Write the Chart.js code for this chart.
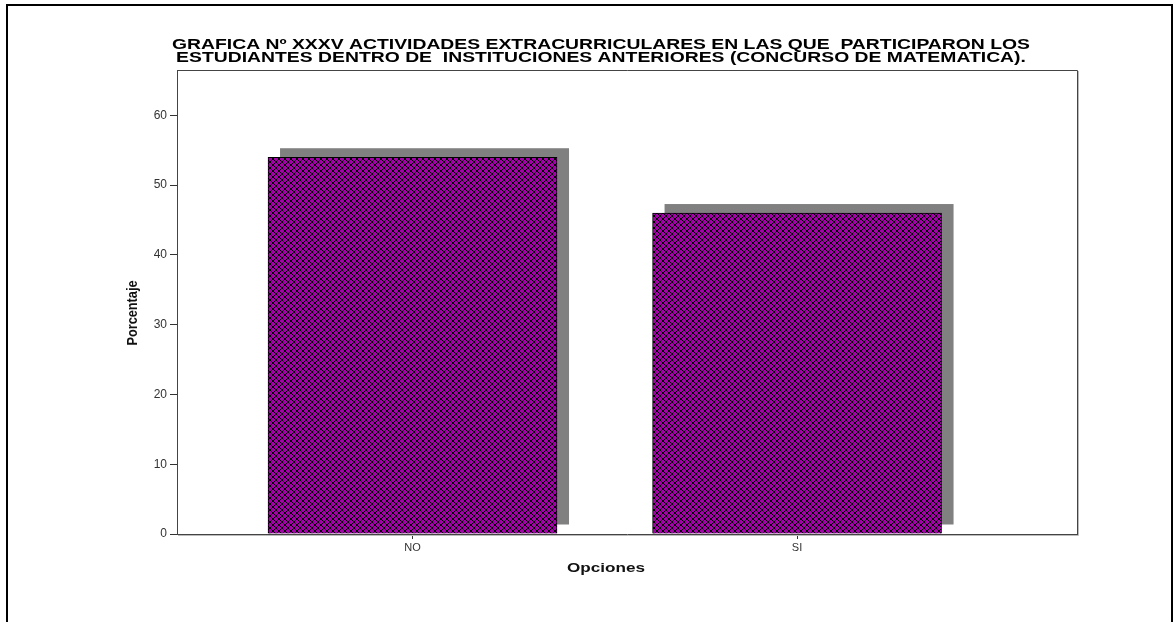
<!DOCTYPE html>
<html>
<head>
<meta charset="utf-8">
<script src="https://cdn.jsdelivr.net/npm/chart.js@4/dist/chart.umd.min.js"></script>
<style>
  html, body { margin: 0; padding: 0; background: #fff; }
  #wrap { width: 1173px; height: 622px; }
</style>
</head>
<body>
<div id="wrap"><canvas id="c" width="1173" height="622"></canvas></div>
<script>
// ---- data ----
const categories = ['NO', 'SI'];
const categoryPositions = [0, 1];
const values = [54, 46];
const yTicks = [0, 10, 20, 30, 40, 50, 60];
const titleLines = [
  'GRAFICA Nº XXXV ACTIVIDADES EXTRACURRICULARES EN LAS QUE  PARTICIPARON LOS',
  'ESTUDIANTES DENTRO DE  INSTITUCIONES ANTERIORES (CONCURSO DE MATEMATICA).'
];
const xTitle = 'Opciones';
const yTitle = 'Porcentaje';

// ---- hatch pattern (crisp pixel cross-hatch) ----
function makePattern() {
  const n = 6;
  const t = document.createElement('canvas');
  t.width = n; t.height = n;
  const g = t.getContext('2d');
  g.fillStyle = '#a400aa';
  g.fillRect(0, 0, n, n);
  g.fillStyle = '#000';
  for (let i = 0; i < n; i++) {
    g.fillRect(i, i, 1, 1);
    g.fillRect(n - 1 - i, i, 1, 1);
  }
  return document.getElementById('c').getContext('2d').createPattern(t, 'repeat');
}

const FONT = '"Liberation Sans", Arial, sans-serif';

const framePlugin = {
  id: 'frame',
  beforeDraw(chart) {
    const ctx = chart.ctx;
    ctx.save();
    ctx.fillStyle = '#fff';
    ctx.fillRect(0, 0, chart.width, chart.height);
    ctx.fillStyle = '#000';
    ctx.fillRect(6, 4, 1167, 2);      // top
    ctx.fillRect(6, 4, 2, 618);       // left
    ctx.fillRect(1171, 4, 2, 618);    // right
    ctx.restore();
  }
};

const shadowPlugin = {
  id: 'barShadow',
  beforeDatasetsDraw(chart) {
    const ctx = chart.ctx;
    const meta = chart.getDatasetMeta(0);
    ctx.save();
    ctx.fillStyle = '#808080';
    meta.data.forEach(el => {
      const p = el.getProps(['x', 'y', 'base', 'width'], true);
      ctx.fillRect(p.x - p.width / 2 + 12, p.y - 9, p.width, p.base - p.y);
    });
    ctx.restore();
  }
};

function stretchedText(ctx, text, x, y, sx, sy, rot) {
  ctx.save();
  ctx.translate(x, y);
  if (rot) ctx.rotate(rot);
  ctx.scale(sx, sy);
  ctx.fillText(text, 0, 0);
  ctx.restore();
}

const boxPlugin = {
  id: 'plotBox',
  afterDraw(chart) {
    const {ctx, chartArea: a} = chart;
    ctx.save();
    ctx.strokeStyle = '#bbbbbb';
    ctx.lineWidth = 1;
    ctx.beginPath();
    ctx.moveTo(a.right + 1.5, a.top + 1); ctx.lineTo(a.right + 1.5, a.bottom + 1.5);
    ctx.lineTo(a.left + 1, a.bottom + 1.5);
    ctx.stroke();
    ctx.strokeStyle = '#444';
    ctx.beginPath();
    ctx.moveTo(a.left, a.top + 0.5); ctx.lineTo(a.right + 0.5, a.top + 0.5);
    ctx.lineTo(a.right + 0.5, a.bottom);
    ctx.stroke();

    ctx.fillStyle = '#000';
    ctx.textAlign = 'center';
    ctx.textBaseline = 'alphabetic';
    // main title (source is horizontally stretched)
    ctx.font = 'bold 15px ' + FONT;
    const sx = 858 / ctx.measureText(titleLines[0]).width;
    const baselines = [49, 62];
    titleLines.forEach((line, i) => stretchedText(ctx, line, 601, baselines[i], sx, 1, 0));

    // x axis title
    ctx.fillStyle = '#111';
    ctx.font = 'bold 13px ' + FONT;
    const sxx = 78 / ctx.measureText(xTitle).width;
    stretchedText(ctx, xTitle, 606, 572, sxx, 1, 0);

    // y axis title (rotated)
    ctx.font = 'bold 12px ' + FONT;
    ctx.textBaseline = 'middle';
    const syy = 65 / ctx.measureText(yTitle).width;
    stretchedText(ctx, yTitle, 133, 313, syy, 1.25, -Math.PI / 2);
    ctx.restore();
  }
};

new Chart(document.getElementById('c'), {
  type: 'bar',
  data: {
    datasets: [{
      data: categoryPositions.map((x, i) => ({x: x, y: values[i]})),
      backgroundColor: makePattern(),
      borderColor: '#000',
      borderWidth: 1,
      barThickness: 289
    }]
  },
  options: {
    responsive: false,
    animation: false,
    devicePixelRatio: 1,
    layout: { padding: { top: 70, right: 96, left: 0, bottom: 0 } },
    plugins: {
      legend: { display: false },
      title: { display: false },
      tooltip: { enabled: false }
    },
    scales: {
      x: {
        type: 'linear',
        offset: false,
        min: -0.6125,
        max: 1.728,
        afterBuildTicks: s => { s.ticks = categoryPositions.map(v => ({value: v})); },
        afterFit: s => { s.height = 88; },
        ticks: {
          callback: v => { const i = categoryPositions.indexOf(v); return i >= 0 ? categories[i] : ''; },
          color: '#333',
          font: { family: FONT, size: 11 },
          padding: 2,
          autoSkip: false,
          maxRotation: 0
        },
        grid: { display: true, offset: false, drawOnChartArea: false, drawTicks: true, tickLength: 5, color: '#333' },
        border: { display: true, color: '#444', width: 1 }
      },
      y: {
        min: 0,
        max: 66.5,
        afterBuildTicks: s => { s.ticks = yTicks.map(v => ({value: v})); },
        afterFit: s => { s.width = 177; },
        ticks: {
          color: '#333',
          font: { family: FONT, size: 12 },
          padding: 3
        },
        grid: { display: true, drawOnChartArea: false, drawTicks: true, tickLength: 7, color: '#333' },
        border: { display: true, color: '#444', width: 1 }
      }
    }
  },
  plugins: [framePlugin, shadowPlugin, boxPlugin]
});
</script>
</body>
</html>
